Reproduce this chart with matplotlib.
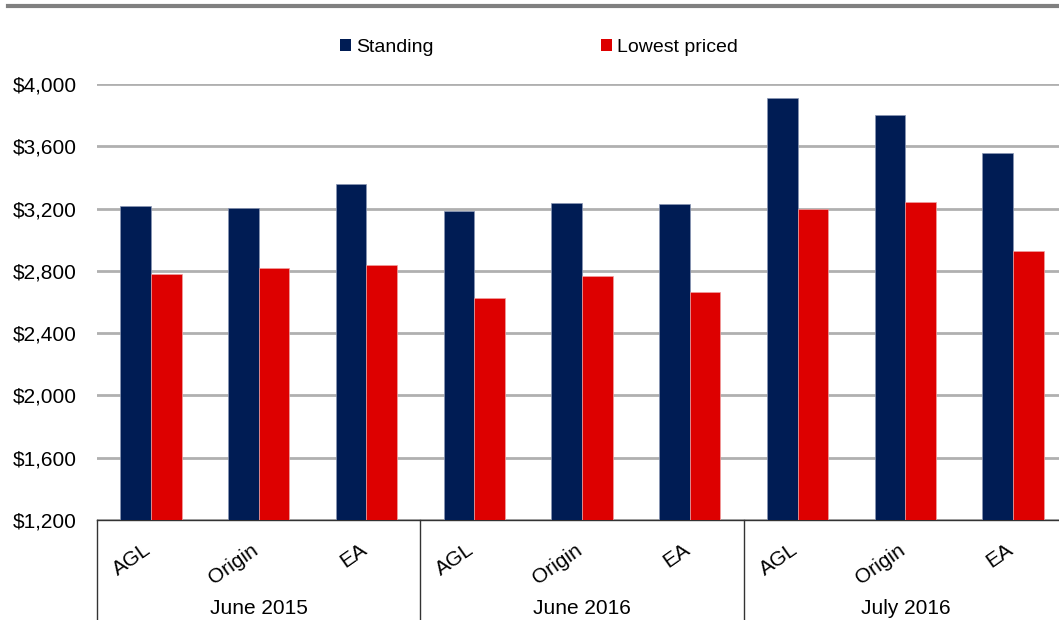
import matplotlib
matplotlib.use("Agg")
import matplotlib.pyplot as plt
from matplotlib.lines import Line2D
from matplotlib.patches import Patch
import matplotlib.transforms as mtransforms
import numpy as np

plt.rcParams['font.family'] = ['Liberation Sans', 'DejaVu Sans']

groups = ["June 2015", "June 2016", "July 2016"]
retailers = ["AGL", "Origin", "EA"]
standing = [3217, 3204, 3356, 3184, 3236, 3231, 3912, 3803, 3559]
lowest = [2778, 2816, 2838, 2624, 2769, 2666, 3199, 3242, 2928]
yticks = [1200, 1600, 2000, 2400, 2800, 3200, 3600, 4000]
series_names = ["Standing", "Lowest priced"]
navy = "#001C54"
red = "#DD0000"

W, H = 1059, 620
fig = plt.figure(figsize=(W / 100, H / 100), dpi=100)

left_px, right_px, top_px, bot_px = 97, 1067, 84, 520
ax = fig.add_axes([left_px / W, (H - bot_px) / H, (right_px - left_px) / W, (bot_px - top_px) / H])

n = len(standing)
x = np.arange(n)
bw = 0.285
ax.bar(x - bw / 2, [v - 1200 for v in standing], bw, bottom=1200, color=navy, zorder=3,
       edgecolor="#8a96b4", linewidth=0.5)
ax.bar(x + bw / 2, [v - 1200 for v in lowest], bw, bottom=1200, color=red, zorder=3,
       edgecolor="#f0a0a0", linewidth=0.5)

ax.set_xlim(-0.5, n - 0.5)
ax.set_ylim(1200, 4000)
ax.set_yticks(yticks)
ax.set_yticklabels([f"${v:,}" for v in yticks], fontsize=15)
ax.tick_params(axis='y', length=0, pad=14.5)
ax.set_xticks([])
ax.grid(axis='y', color="#B0B0B0", linewidth=2, zorder=0)
for s in ["top", "right", "left"]:
    ax.spines[s].set_visible(False)
ax.spines["bottom"].set_color("#333333")
ax.spines["bottom"].set_linewidth(1)

# category labels (rotated)
pix = mtransforms.ScaledTranslation(3.5 / 100, -20 / 100, fig.dpi_scale_trans)
trans = mtransforms.blended_transform_factory(ax.transData, ax.transAxes) + pix
for i in range(n):
    ax.text(i, 0, retailers[i % 3], transform=trans, rotation=35, ha='right', va='top',
            fontsize=15, clip_on=False)

# group labels and separators
trans_g = mtransforms.blended_transform_factory(ax.transData, fig.transFigure)
for g, name in enumerate(groups):
    ax.text(g * 3 + 1, 1 - 608 / H, name, transform=trans_g, ha='center', va='center',
            fontsize=15, clip_on=False)
for b in range(4):
    ax.add_line(Line2D([b * 3 - 0.5, b * 3 - 0.5], [0, 1 - bot_px / H], transform=trans_g,
                       color="#333333", linewidth=1, clip_on=False))

# top border
fig.add_artist(Line2D([8 / W, 1], [1 - 5.5 / H, 1 - 5.5 / H], color="#808080", linewidth=3))

# legend
handles = [Patch(facecolor=navy, label=series_names[0]), Patch(facecolor=red, label=series_names[1])]
fig.legend(handles=handles, loc='center', bbox_to_anchor=(539 / W, 1 - 47 / H), ncol=2,
           frameon=False, fontsize=14, handlelength=0.57, handleheight=0.57,
           handletextpad=0.25, columnspacing=8.6, borderpad=0)

fig.savefig("out.png", dpi=100)
